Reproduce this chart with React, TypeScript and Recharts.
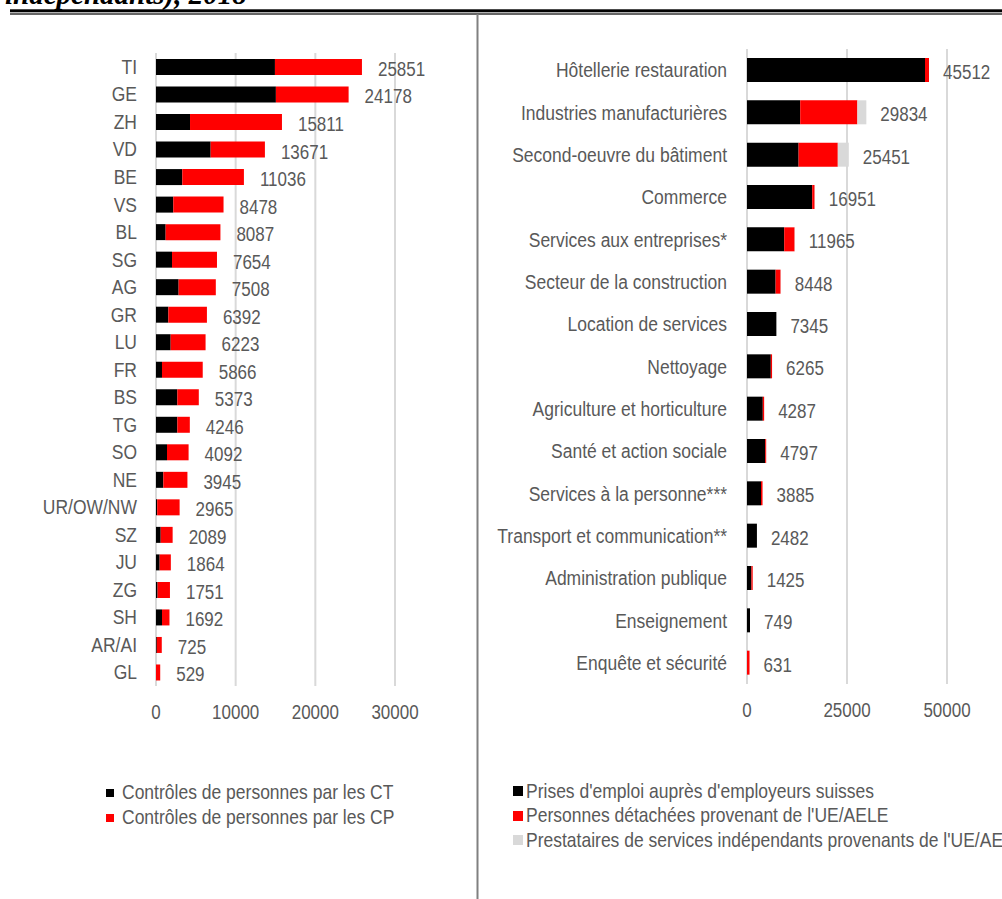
import React from 'react';
import { BarChart, Bar, XAxis, YAxis, CartesianGrid, LabelList } from 'recharts';

// ---------- Left chart data (cantons) ----------
const cantons = ['TI', 'GE', 'ZH', 'VD', 'BE', 'VS', 'BL', 'SG', 'AG', 'GR', 'LU', 'FR', 'BS', 'TG', 'SO', 'NE', 'UR/OW/NW', 'SZ', 'JU', 'ZG', 'SH', 'AR/AI', 'GL'];
const cantonTotals = [25851, 24178, 15811, 13671, 11036, 8478, 8087, 7654, 7508, 6392, 6223, 5866, 5373, 4246, 4092, 3945, 2965, 2089, 1864, 1751, 1692, 725, 529];
const cantonCT = [14930, 15050, 4270, 6860, 3300, 2170, 1210, 2010, 2840, 1550, 1840, 750, 2680, 2680, 1380, 920, 150, 590, 460, 200, 750, 100, 0];
const cantonCP = [10921, 9128, 11541, 6811, 7736, 6308, 6877, 5644, 4668, 4842, 4383, 5116, 2693, 1566, 2712, 3025, 2815, 1499, 1404, 1551, 942, 625, 529];
const leftTicks = [0, 10000, 20000, 30000];
const leftSeries = [
  { key: 'ct', name: 'Contrôles de personnes par les CT', color: '#000000' },
  { key: 'cp', name: 'Contrôles de personnes par les CP', color: '#ff0000' },
];

// ---------- Right chart data (branches) ----------
const branches = [
  'Hôtellerie restauration',
  'Industries manufacturières',
  'Second-oeuvre du bâtiment',
  'Commerce',
  'Services aux entreprises*',
  'Secteur de la construction',
  'Location de services',
  'Nettoyage',
  'Agriculture et horticulture',
  'Santé et action sociale',
  'Services à la personne***',
  'Transport et communication**',
  'Administration publique',
  'Enseignement',
  'Enquête et sécurité',
];
const branchTotals = [45512, 29834, 25451, 16951, 11965, 8448, 7345, 6265, 4287, 4797, 3885, 2482, 1425, 749, 631];
const branchEmp = [44500, 13300, 12900, 16300, 9300, 7150, 7345, 5950, 3950, 4550, 3500, 2482, 1100, 749, 0];
const branchDet = [1000, 14300, 9800, 600, 2600, 1250, 0, 315, 337, 247, 385, 0, 325, 0, 631];
const branchInd = [12, 2234, 2751, 51, 65, 48, 0, 0, 0, 0, 0, 0, 0, 0, 0];
const rightTicks = [0, 25000, 50000];
const rightSeries = [
  { key: 'emp', name: "Prises d'emploi auprès d'employeurs suisses", color: '#000000' },
  { key: 'det', name: "Personnes détachées provenant de l'UE/AELE", color: '#ff0000' },
  { key: 'ind', name: "Prestataires de services indépendants provenants de l'UE/AELE", color: '#d9d9d9' },
];

const leftData = cantons.map((name, i) => ({ name, ct: cantonCT[i], cp: cantonCP[i], total: cantonTotals[i] }));
const rightData = branches.map((name, i) => ({ name, emp: branchEmp[i], det: branchDet[i], ind: branchInd[i], total: branchTotals[i] }));

const FONT = '"Liberation Sans", Arial, sans-serif';
const TXT = '#595959';
const FS = 17;
const FS_CAT = 17.5;
const SY = 1.15;

// label only on the last non-zero segment of each stacked bar
const isLastSegment = (payload: any, keys: string[], key: string) => {
  if (!payload) return false;
  const idx = keys.indexOf(key);
  if (!payload[key]) return false;
  for (let j = idx + 1; j < keys.length; j++) if (payload[keys[j]]) return false;
  return true;
};

const makeLabel = (offset: number) => (p: any) => {
  if (p.value === null || p.value === undefined || p.value === '') return null;
  const vb = p.viewBox || {};
  const x = (vb.x ?? p.x) + (vb.width ?? p.width ?? 0) + offset;
  const y = (vb.y ?? p.y) + (vb.height ?? p.height ?? 0) / 2 + 2;
  return (
    <g transform={`translate(${x},${y}) scale(1,${SY})`}>
      <text x={0} y={0} dy="0.355em" fill={TXT} fontSize={FS} fontFamily={FONT} textAnchor="start">
        {p.value}
      </text>
    </g>
  );
};

const YTick = (p: any) => (
  <g transform={`translate(${p.x},${p.y}) scale(1,${SY})`}>
    <text x={0} y={0} dy="0.355em" fill={TXT} fontSize={FS_CAT} fontFamily={FONT} textAnchor="end">
      {p.payload.value}
    </text>
  </g>
);

const XTick = (p: any) => (
  <g transform={`translate(${p.x},${p.y}) scale(1,${SY})`}>
    <text x={0} y={0} dy="0.71em" fill={TXT} fontSize={FS} fontFamily={FONT} textAnchor="middle">
      {p.payload.value}
    </text>
  </g>
);

const LegendBox = ({ items, left, top, gap, sq, space }: any) => (
  <div style={{ position: 'absolute', left, top, fontFamily: FONT, fontSize: FS_CAT, color: TXT }}>
    {items.map((it: any) => (
      <div key={it.key} style={{ display: 'flex', alignItems: 'center', height: gap, whiteSpace: 'nowrap' }}>
        <span style={{ display: 'inline-block', width: sq, height: sq, background: it.color, marginRight: space }} />
        <span style={{ display: 'inline-block', transform: `scaleY(${SY})` }}>{it.name}</span>
      </div>
    ))}
  </div>
);

export default function App() {
  const leftKeys = leftSeries.map((s) => s.key);
  const rightKeys = rightSeries.map((s) => s.key);
  return (
    <div style={{ position: 'absolute', left: 0, top: 0, width: 1002, height: 899, overflow: 'hidden', background: '#fff' }}>
      {/* decorations: cut title, double rule, separator */}
      <svg width={1002} height={899} style={{ position: 'absolute', left: 0, top: 0 }}>
        <text x={5} y={4} fontFamily='"Liberation Serif", "Times New Roman", serif' fontStyle="italic" fontWeight="bold" fontSize={29} fill="#000">
          indépendants), 2018
        </text>
        <rect x={10} y={9.3} width={992} height={3} fill="#000" />
        <rect x={10} y={13.4} width={992} height={1.2} fill="#000" />
        <rect x={476.5} y={14} width={2} height={885} fill="#808080" />
      </svg>

      <div style={{ position: 'absolute', left: 0, top: 0 }}>
        <BarChart
          width={477}
          height={760}
          data={leftData}
          layout="vertical"
          margin={{ top: 53, right: 82, bottom: 44, left: 0 }}
          barSize={16}
        >
          <CartesianGrid horizontal={false} vertical stroke="#d9d9d9" strokeWidth={2} />
          <XAxis
            type="number"
            domain={[0, 30000]}
            ticks={leftTicks}
            axisLine={false}
            tickLine={false}
            tickMargin={13}
            height={30}
            tick={<XTick />}
          />
          <YAxis
            type="category"
            dataKey="name"
            width={156}
            axisLine={false}
            tickLine={false}
            tickMargin={13}
            interval={0}
            tick={<YTick />}
          />
          {leftSeries.map((s) => (
            <Bar key={s.key} dataKey={s.key} name={s.name} stackId="a" fill={s.color} isAnimationActive={false}>
              <LabelList
                valueAccessor={(entry: any) => (isLastSegment(entry && entry.payload, leftKeys, s.key) ? entry.payload.total : null)}
                content={makeLabel(16)}
              />
            </Bar>
          ))}
        </BarChart>
      </div>

      <div style={{ position: 'absolute', left: 478, top: 0, width: 524, height: 760, overflow: 'hidden' }}>
        <BarChart
          width={600}
          height={760}
          data={rightData}
          layout="vertical"
          margin={{ top: 49, right: 31, bottom: 46, left: 0 }}
          barSize={24}
        >
          <CartesianGrid horizontal={false} vertical stroke="#d9d9d9" strokeWidth={2} />
          <XAxis
            type="number"
            domain={[0, 75000]}
            ticks={rightTicks}
            axisLine={false}
            tickLine={false}
            tickMargin={13}
            height={30}
            tick={<XTick />}
          />
          <YAxis
            type="category"
            dataKey="name"
            width={269}
            axisLine={false}
            tickLine={false}
            tickMargin={14}
            interval={0}
            tick={<YTick />}
          />
          {rightSeries.map((s) => (
            <Bar key={s.key} dataKey={s.key} name={s.name} stackId="a" fill={s.color} isAnimationActive={false}>
              <LabelList
                valueAccessor={(entry: any) => (isLastSegment(entry && entry.payload, rightKeys, s.key) ? entry.payload.total : null)}
                content={makeLabel(14)}
              />
            </Bar>
          ))}
        </BarChart>
      </div>

      <LegendBox items={leftSeries} left={106} top={780} gap={25} sq={8} space={8} />
      <LegendBox items={rightSeries} left={513} top={779} gap={24.5} sq={10} space={3} />
    </div>
  );
}
